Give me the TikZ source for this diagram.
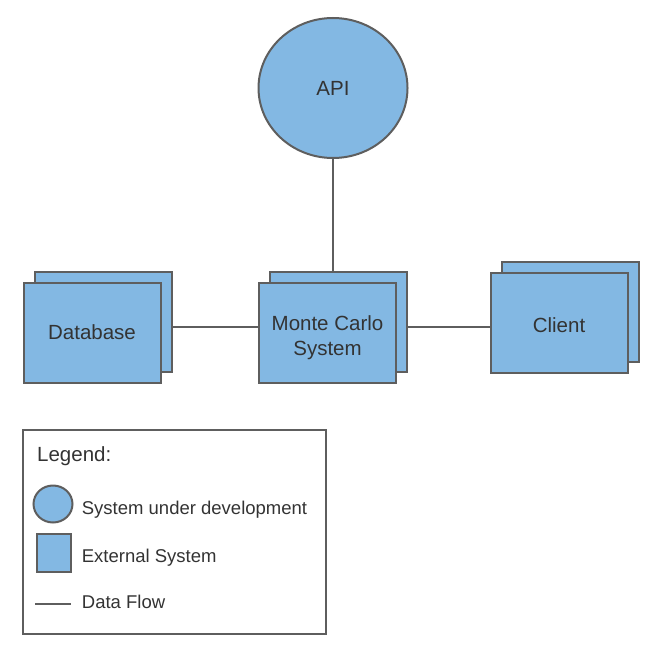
\documentclass[tikz,border=0pt]{standalone}
\usepackage{fontspec}
\setmainfont{Liberation Sans}
\usetikzlibrary{shapes.geometric}
\definecolor{boxblue}{HTML}{83B8E3}
\definecolor{linegray}{HTML}{5E5E5E}
\definecolor{textgray}{HTML}{333333}

\begin{document}
\begin{tikzpicture}[x=1pt,y=-1pt,
   ext/.style={draw=linegray,line width=2pt,fill=boxblue,minimum width=137pt,minimum height=100pt,inner sep=0pt,text=textgray,align=center,font=\fontsize{20.5}{24.5}\selectfont},
   sud/.style={ellipse,draw=linegray,line width=2pt,fill=boxblue,inner sep=0pt,text=textgray,font=\fontsize{20.5}{24.5}\selectfont},
   flow/.style={draw=linegray,line width=1.8pt},
   lab/.style={anchor=base west,inner sep=0pt,text=textgray,font=\fontsize{18.5}{22}\selectfont}]
   \useasboundingbox (0,0) rectangle (663,658);

   \node[sud,minimum width=149pt,minimum height=140pt] (api) at (333,88) {API};

   \node[ext] (db2) at (103,321.5) {};
   \node[ext] (db) at (92,332.5) {Database};
   \node[ext] (mc2) at (338.5,321.5) {};
   \node[ext] (mc) at (327.5,332.5) {\rule{0pt}{25pt}Monte Carlo\\System};
   \node[ext] (cl2) at (570,312.3) {};
   \node[ext] (cl) at (559,323.3) {\rule{0pt}{19pt}Client};

   \path (api.south) edge[flow] (api.south |- mc2.north);
   \path ([yshift=-5.5pt]db2.east) edge[flow] ([yshift=5.5pt]mc.west);
   \path ([yshift=-5.5pt]mc2.east) edge[flow] ([yshift=-3.7pt]cl.west);

   \node[draw=linegray,line width=1.8pt,minimum width=303pt,minimum height=204pt,inner sep=0pt] (legend) at (174.5,532) {};
   \node[lab,font=\fontsize{20.5}{24}\selectfont] (leg) at (37,461.5) {Legend:};
   \node[sud,minimum width=39pt,minimum height=37pt] (legsud) at (53,504) {};
   \node[lab] (labsud) at (81.7,514.6) {System under development};
   \node[ext,minimum width=34pt,minimum height=37.5pt] (legext) at (53.7,553) {};
   \node[lab] (labext) at (81.7,562.6) {External System};
   \coordinate (flowa) at (35,604);
   \coordinate (flowb) at (70.7,604);
   \path (flowa) edge[flow] (flowb);
   \node[lab] (labflow) at (81.7,608.3) {Data Flow};

\end{tikzpicture}
\end{document}
